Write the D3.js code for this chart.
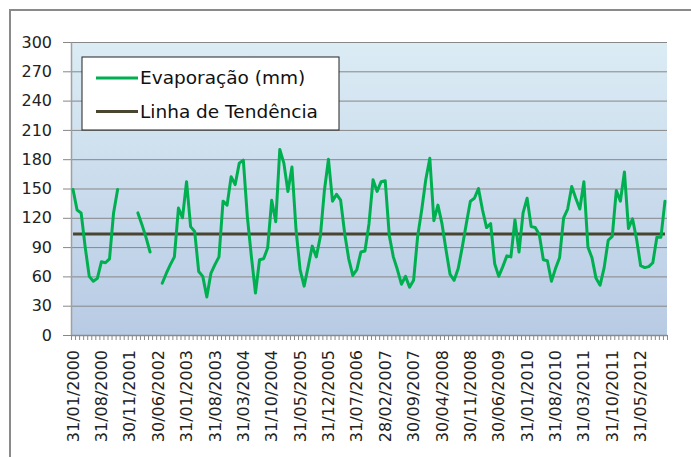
<!DOCTYPE html>
<html>
<head>
<meta charset="utf-8">
<script src="https://cdn.jsdelivr.net/npm/d3@7"></script>
<style>
  body { margin: 0; background: #fff; }
  svg { display: block; font-family: "DejaVu Sans", sans-serif; }
</style>
</head>
<body>
<div id="chart"></div>
<script>
// monthly evaporation (mm), one entry per category on the x axis; null = no data
const evaporation = [
  149, 128, 125, 90, 60, 55, 58, 75, 74, 78, 125, 149,
  null, null, null, null,
  125, 113, 100, 85,
  null, null,
  53, 63, 72, 80, 130, 120, 157, 111, 106, 65,
  60, 39, 63, 72, 80, 137, 133, 162, 154, 176,
  179, 121, 80, 43, 77, 78, 89, 138, 116, 190,
  176, 147, 172, 108, 67, 50, 70, 91, 80, 101,
  148, 180, 137, 144, 138, 104, 78, 61, 67, 85,
  86, 114, 159, 147, 157, 158, 102, 80, 67, 52,
  60, 49, 56, 101, 128, 159, 181, 117, 133, 114,
  87, 62, 56, 68, 90, 114, 137, 140, 150, 128,
  110, 114, 73, 60, 70, 81, 80, 118, 85, 125,
  140, 111, 110, 103, 77, 76, 55, 68, 79, 120,
  129, 152, 140, 129, 157, 90, 79, 58, 51, 69,
  97, 101, 148, 137, 167, 109, 119, 98, 71, 69,
  70, 74, 100, 100, 137
];

// trend line (mean), constant across the whole period
const trendValue = 103.5;

// x labels, one every 7 categories
const tickLabels = [
  "31/01/2000", "31/08/2000", "30/11/2001", "30/06/2002", "31/01/2003",
  "31/08/2003", "31/03/2004", "31/10/2004", "31/05/2005", "31/12/2005",
  "31/07/2006", "28/02/2007", "30/09/2007", "30/04/2008", "30/11/2008",
  "30/06/2009", "31/01/2010", "31/08/2010", "31/03/2011", "31/10/2011",
  "31/05/2012"
];
const labelStep = 7;

const yTicks = [0, 30, 60, 90, 120, 150, 180, 210, 240, 270, 300];

const seriesNames = ["Evaporação (mm)", "Linha de Tendência"];
const seriesColors = ["#00b050", "#4a4530"];

const width = 691, height = 457;
const plot = { left: 71, right: 667, top: 42, bottom: 335 };

const svg = d3.select("#chart").append("svg")
  .attr("width", width)
  .attr("height", height);

// outer chart border (right/bottom run off the picture)
svg.append("rect")
  .attr("x", 10).attr("y", 10)
  .attr("width", 720).attr("height", 500)
  .attr("fill", "#fff")
  .attr("stroke", "#8a8a8a")
  .attr("stroke-width", 2);

// plot background gradient
const grad = svg.append("defs").append("linearGradient")
  .attr("id", "bg").attr("x1", 0).attr("y1", 0).attr("x2", 0).attr("y2", 1);
grad.append("stop").attr("offset", "0%").attr("stop-color", "#dcecf5");
grad.append("stop").attr("offset", "100%").attr("stop-color", "#b8cbe4");

svg.append("rect")
  .attr("x", plot.left).attr("y", plot.top)
  .attr("width", plot.right - plot.left)
  .attr("height", plot.bottom - plot.top)
  .attr("fill", "url(#bg)");

const idx = d3.range(evaporation.length);
const x = d3.scaleBand().domain(idx).range([plot.left, plot.right]).padding(0);
const xc = (i) => x(i) + x.bandwidth() / 2;
const y = d3.scaleLinear().domain([0, 300]).range([plot.bottom, plot.top]);

// horizontal gridlines
svg.append("g")
  .attr("transform", `translate(${plot.left},0)`)
  .call(d3.axisRight(y).tickValues(yTicks.slice(1)).tickSize(plot.right - plot.left).tickFormat(""))
  .call((g) => g.select(".domain").remove())
  .call((g) => g.selectAll(".tick line").attr("stroke", "#878787").attr("stroke-width", 1));

// y axis
svg.append("g")
  .attr("transform", `translate(${plot.left},0)`)
  .call(d3.axisLeft(y).tickValues(yTicks).tickSize(8).tickSizeOuter(0).tickPadding(11))
  .call((g) => g.select(".domain").attr("stroke", "#a0a0a0").attr("stroke-width", 1.5))
  .call((g) => g.selectAll(".tick line").attr("stroke", "#878787"))
  .call((g) => g.selectAll(".tick text")
    .attr("fill", "#222")
    .style("font-size", "16px")
    .style("font-family", "DejaVu Sans"));

// x axis: minor ticks at every category boundary
const xb = d3.scaleLinear().domain([0, evaporation.length]).range([plot.left, plot.right]);
svg.append("g")
  .attr("transform", `translate(0,${plot.bottom})`)
  .call(d3.axisBottom(xb).tickValues(d3.range(evaporation.length + 1)).tickSize(5).tickSizeOuter(0).tickFormat(""))
  .call((g) => g.select(".domain").attr("stroke", "#8a8a8a").attr("stroke-width", 1.5))
  .call((g) => g.selectAll(".tick line").attr("stroke", "#8a8a8a"));

// x labels, rotated
svg.append("g")
  .attr("transform", `translate(0,${plot.bottom})`)
  .call(d3.axisBottom(x)
    .tickValues(idx.filter((i) => i % labelStep === 0))
    .tickFormat((i) => tickLabels[i / labelStep])
    .tickSize(0))
  .call((g) => g.select(".domain").remove())
  .call((g) => g.selectAll(".tick text")
    .attr("transform", "rotate(-90)")
    .attr("text-anchor", "end")
    .attr("x", -15)
    .attr("y", 0)
    .attr("dy", "0.35em")
    .attr("fill", "#222")
    .style("font-size", "16px")
    .style("font-family", "DejaVu Sans"));

// trend line
const trend = idx.map((i) => ({ i: i, v: trendValue }));
svg.append("path")
  .datum(trend)
  .attr("fill", "none")
  .attr("stroke", seriesColors[1])
  .attr("stroke-width", 3)
  .attr("d", d3.line().x((d) => xc(d.i)).y((d) => y(d.v)));

// evaporation line, broken where there is no data
const line = d3.line()
  .defined((d) => d != null)
  .x((d, i) => xc(i))
  .y((d) => y(d));

svg.append("path")
  .datum(evaporation)
  .attr("fill", "none")
  .attr("stroke", seriesColors[0])
  .attr("stroke-width", 3)
  .attr("stroke-linejoin", "round")
  .attr("stroke-linecap", "round")
  .attr("d", line);

// legend
const legend = svg.append("g");
legend.append("rect")
  .attr("x", 82).attr("y", 57)
  .attr("width", 257).attr("height", 73)
  .attr("fill", "#fff")
  .attr("stroke", "#222")
  .attr("stroke-width", 1);

const keys = legend.selectAll("g").data(seriesNames).join("g")
  .attr("transform", (d, i) => `translate(0,${78 + i * 33.5})`);

keys.append("line")
  .attr("x1", 96).attr("x2", 138)
  .attr("stroke", (d, i) => seriesColors[i])
  .attr("stroke-width", 3);

keys.append("text")
  .attr("x", 140)
  .attr("dy", "0.35em")
  .attr("fill", "#111")
  .style("font-size", "18.5px")
  .text((d) => d);
</script>
</body>
</html>
